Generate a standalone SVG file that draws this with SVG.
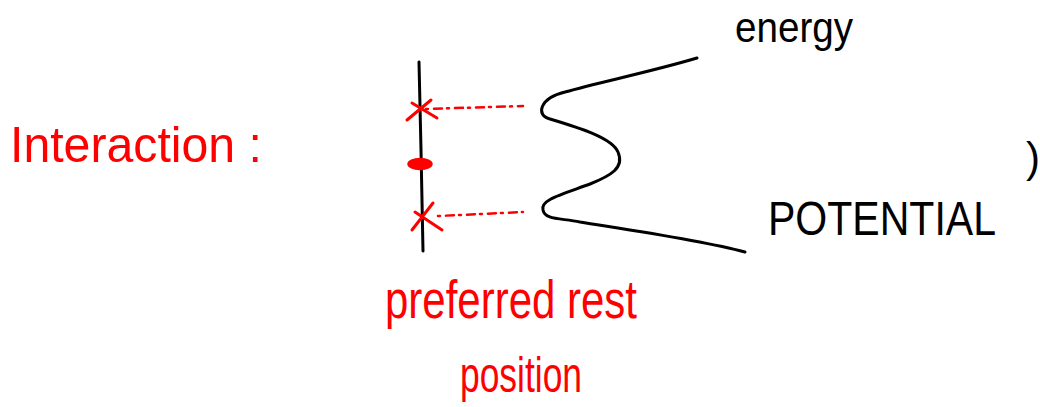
<svg xmlns="http://www.w3.org/2000/svg" width="1040" height="407" viewBox="0 0 1040 407">
<style>
.red{stroke:#ff0000;fill:none;stroke-width:3;stroke-linecap:round;stroke-linejoin:round}
.blk{stroke:#000;fill:none;stroke-width:3;stroke-linecap:round;stroke-linejoin:round}
.dash{stroke:#ff0000;fill:none;stroke-width:2.5;stroke-linecap:round;stroke-dasharray:2 6 8 5}
.tr{fill:#ff0000;font-family:"Liberation Sans",sans-serif}
.tb{fill:#000;font-family:"Liberation Sans",sans-serif}
</style>
<rect width="1040" height="407" fill="#fff"/>
<g id="title">
<text class="tr" x="10" y="162" font-size="50" textLength="252" lengthAdjust="spacingAndGlyphs">Interaction :</text>
</g>
<g id="axis">
<path class="blk" d="M419 62 L421 150 L423 251"/>
</g>
<g id="upper-x">
<path class="red" d="M407 120 L431 100 M412 103 L437 118"/>
</g>
<g id="rest-dot">
<ellipse cx="420" cy="164" rx="12" ry="5.5" fill="#ff0000" stroke="#ff0000" stroke-width="1.5"/>
</g>
<g id="lower-x">
<path class="red" d="M412 230 L433 203 M415 212 L442 230"/>
</g>
<g id="connectors">
<path class="dash" d="M426 109 L523 106"/>
<path class="dash" d="M438 216 L523 212"/>
</g>
<g id="potential-curve">
<path class="blk" d="M697 58 C650 72,600 82,565 92 C540 98,535 115,550 119 C580 128,612 138,618 152 C625 168,610 176,590 184 C560 195,540 200,543 210 C545 220,560 218,580 222 C630 230,700 240,745 252"/>
</g>
<g id="energy-label">
<text class="tb" x="735" y="42" font-size="42" textLength="118" lengthAdjust="spacingAndGlyphs">energy</text>
</g>
<g id="potential-label">
<text class="tb" x="768" y="235" font-size="48" textLength="228" lengthAdjust="spacingAndGlyphs">POTENTIAL</text>
</g>
<g id="paren">
<text class="tb" x="1026" y="172" font-size="42">)</text>
</g>
<g id="rest-label">
<text class="tr" x="385" y="318" font-size="54" textLength="252" lengthAdjust="spacingAndGlyphs">preferred rest</text>
<text class="tr" x="460" y="392" font-size="50" textLength="122" lengthAdjust="spacingAndGlyphs">position</text>
</g>
</svg>
